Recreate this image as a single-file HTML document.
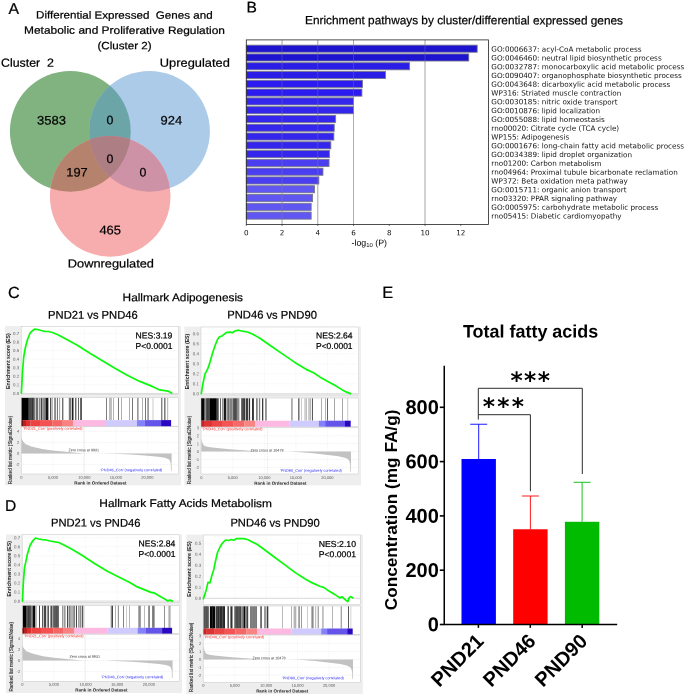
<!DOCTYPE html>
<html lang="en"><head><meta charset="utf-8"><title>Figure</title>
<style>html,body{margin:0;padding:0;background:#fff}svg{display:block;will-change:transform}text{white-space:pre}</style></head><body>
<svg width="685" height="695" viewBox="0 0 685 695">
<rect width="685" height="695" fill="#fff"/>
<!-- Panel A -->
<defs>
<clipPath id="cg"><circle cx="70.3" cy="131.3" r="60.4"/></clipPath>
<clipPath id="cb"><circle cx="149.5" cy="131.3" r="60.4"/></clipPath>
</defs>
<circle cx="70.3" cy="131.3" r="60.4" fill="#80B380"/>
<circle cx="149.5" cy="131.3" r="60.4" fill="#ACCBE8"/>
<circle cx="110.2" cy="196.4" r="60.3" fill="#F7ACAE"/>
<circle cx="149.5" cy="131.3" r="60.4" fill="#6CA5A8" clip-path="url(#cg)"/>
<circle cx="110.2" cy="196.4" r="60.3" fill="#B5836D" clip-path="url(#cg)"/>
<circle cx="110.2" cy="196.4" r="60.3" fill="#CE92A6" clip-path="url(#cb)"/>
<g clip-path="url(#cg)"><circle cx="110.2" cy="196.4" r="60.3" fill="#AD7F85" clip-path="url(#cb)"/></g>
<text x="8.40" y="14.00" font-size="15.8" font-family="Liberation Sans, sans-serif" stroke="#000" stroke-width="0.22" transform="rotate(0.05 8.40 14.00)">A</text>
<text x="36.00" y="18.60" font-size="10.6" font-family="Liberation Sans, sans-serif" stroke="#000" stroke-width="0.22" textLength="176.60" lengthAdjust="spacingAndGlyphs" transform="rotate(0.05 36.00 18.60)">Differential Expressed  Genes and</text>
<text x="24.00" y="33.80" font-size="10.6" font-family="Liberation Sans, sans-serif" stroke="#000" stroke-width="0.22" textLength="201.00" lengthAdjust="spacingAndGlyphs" transform="rotate(0.05 24.00 33.80)">Metabolic and Proliferative Regulation</text>
<text x="97.40" y="49.20" font-size="10.6" font-family="Liberation Sans, sans-serif" stroke="#000" stroke-width="0.22" textLength="54.20" lengthAdjust="spacingAndGlyphs" transform="rotate(0.05 97.40 49.20)">(Cluster 2)</text>
<text x="1.00" y="66.70" font-size="11.8" font-family="Liberation Sans, sans-serif" stroke="#000" stroke-width="0.22" textLength="53.00" lengthAdjust="spacingAndGlyphs" transform="rotate(0.05 1.00 66.70)">Cluster  2</text>
<text x="159.80" y="66.80" font-size="11.8" font-family="Liberation Sans, sans-serif" stroke="#000" stroke-width="0.22" textLength="70.00" lengthAdjust="spacingAndGlyphs" transform="rotate(0.05 159.80 66.80)">Upregulated</text>
<text x="67.80" y="267.40" font-size="11.8" font-family="Liberation Sans, sans-serif" stroke="#000" stroke-width="0.22" textLength="86.20" lengthAdjust="spacingAndGlyphs" transform="rotate(0.05 67.80 267.40)">Downregulated</text>
<text x="51.50" y="124.50" font-size="12.3" font-family="Liberation Sans, sans-serif" text-anchor="middle" stroke="#000" stroke-width="0.22" textLength="28.90" lengthAdjust="spacingAndGlyphs" transform="rotate(0.05 51.50 124.50)">3583</text>
<text x="110.00" y="124.20" font-size="12.3" font-family="Liberation Sans, sans-serif" text-anchor="middle" stroke="#000" stroke-width="0.22" transform="rotate(0.05 110.00 124.20)">0</text>
<text x="171.30" y="124.50" font-size="12.3" font-family="Liberation Sans, sans-serif" text-anchor="middle" stroke="#000" stroke-width="0.22" textLength="21.60" lengthAdjust="spacingAndGlyphs" transform="rotate(0.05 171.30 124.50)">924</text>
<text x="110.00" y="163.00" font-size="12.3" font-family="Liberation Sans, sans-serif" text-anchor="middle" stroke="#000" stroke-width="0.22" transform="rotate(0.05 110.00 163.00)">0</text>
<text x="77.00" y="176.60" font-size="12.3" font-family="Liberation Sans, sans-serif" text-anchor="middle" stroke="#000" stroke-width="0.22" textLength="21.40" lengthAdjust="spacingAndGlyphs" transform="rotate(0.05 77.00 176.60)">197</text>
<text x="143.00" y="176.60" font-size="12.3" font-family="Liberation Sans, sans-serif" text-anchor="middle" stroke="#000" stroke-width="0.22" transform="rotate(0.05 143.00 176.60)">0</text>
<text x="110.20" y="234.30" font-size="12.3" font-family="Liberation Sans, sans-serif" text-anchor="middle" stroke="#000" stroke-width="0.22" textLength="21.60" lengthAdjust="spacingAndGlyphs" transform="rotate(0.05 110.20 234.30)">465</text>
<!-- Panel B -->
<text x="246.60" y="12.60" font-size="15.6" font-family="Liberation Sans, sans-serif" stroke="#000" stroke-width="0.22" transform="rotate(0.05 246.60 12.60)">B</text>
<text x="305.00" y="24.20" font-size="11.9" font-family="Liberation Sans, sans-serif" stroke="#000" stroke-width="0.22" textLength="318.00" lengthAdjust="spacingAndGlyphs" transform="rotate(0.05 305.00 24.20)">Enrichment pathways by cluster/differential expressed genes</text>
<line x1="282.04" y1="39.9" x2="282.04" y2="224.4" stroke="#ABABAB" stroke-width="0.9"/>
<line x1="317.78" y1="39.9" x2="317.78" y2="224.4" stroke="#ABABAB" stroke-width="0.9"/>
<line x1="353.52" y1="39.9" x2="353.52" y2="224.4" stroke="#ABABAB" stroke-width="0.9"/>
<line x1="425.00" y1="39.9" x2="425.00" y2="224.4" stroke="#ABABAB" stroke-width="0.9"/>
<rect x="246.30" y="45.14" width="230.88" height="7.1" fill="#1E14D0" stroke="#77778C" stroke-width="0.85"/>
<text x="491.30" y="51.61" font-size="7.22" font-family="DejaVu Sans, Liberation Sans, sans-serif" fill="#111" transform="rotate(0.05 491.30 51.61)">GO:0006637: acyl-CoA metabolic process</text>
<rect x="246.30" y="53.92" width="222.48" height="7.1" fill="#1E14D0" stroke="#77778C" stroke-width="0.85"/>
<text x="491.30" y="60.39" font-size="7.22" font-family="DejaVu Sans, Liberation Sans, sans-serif" fill="#111" transform="rotate(0.05 491.30 60.39)">GO:0046460: neutral lipid biosynthetic process</text>
<rect x="246.30" y="62.71" width="163.33" height="7.1" fill="#2A1EE6" stroke="#77778C" stroke-width="0.85"/>
<text x="491.30" y="69.18" font-size="7.22" font-family="DejaVu Sans, Liberation Sans, sans-serif" fill="#111" transform="rotate(0.05 491.30 69.18)">GO:0032787: monocarboxylic acid metabolic process</text>
<rect x="246.30" y="71.49" width="139.21" height="7.1" fill="#2A1EE6" stroke="#77778C" stroke-width="0.85"/>
<text x="491.30" y="77.96" font-size="7.22" font-family="DejaVu Sans, Liberation Sans, sans-serif" fill="#111" transform="rotate(0.05 491.30 77.96)">GO:0090407: organophosphate biosynthetic process</text>
<rect x="246.30" y="80.28" width="116.16" height="7.1" fill="#2B1BF0" stroke="#77778C" stroke-width="0.85"/>
<text x="491.30" y="86.75" font-size="7.22" font-family="DejaVu Sans, Liberation Sans, sans-serif" fill="#111" transform="rotate(0.05 491.30 86.75)">GO:0043648: dicarboxylic acid metabolic process</text>
<rect x="246.30" y="89.06" width="115.62" height="7.1" fill="#2B1BF0" stroke="#77778C" stroke-width="0.85"/>
<text x="491.30" y="95.53" font-size="7.22" font-family="DejaVu Sans, Liberation Sans, sans-serif" fill="#111" transform="rotate(0.05 491.30 95.53)">WP316: Striated muscle contraction</text>
<rect x="246.30" y="97.85" width="107.22" height="7.1" fill="#3426EC" stroke="#77778C" stroke-width="0.85"/>
<text x="491.30" y="104.32" font-size="7.22" font-family="DejaVu Sans, Liberation Sans, sans-serif" fill="#111" transform="rotate(0.05 491.30 104.32)">GO:0030185: nitric oxide transport</text>
<rect x="246.30" y="106.64" width="107.22" height="7.1" fill="#3426EC" stroke="#77778C" stroke-width="0.85"/>
<text x="491.30" y="113.11" font-size="7.22" font-family="DejaVu Sans, Liberation Sans, sans-serif" fill="#111" transform="rotate(0.05 491.30 113.11)">GO:0010876: lipid localization</text>
<rect x="246.30" y="115.42" width="89.35" height="7.1" fill="#3426EC" stroke="#77778C" stroke-width="0.85"/>
<text x="491.30" y="121.89" font-size="7.22" font-family="DejaVu Sans, Liberation Sans, sans-serif" fill="#111" transform="rotate(0.05 491.30 121.89)">GO:0055088: lipid homeostasis</text>
<rect x="246.30" y="124.21" width="87.92" height="7.1" fill="#3426EC" stroke="#77778C" stroke-width="0.85"/>
<text x="491.30" y="130.68" font-size="7.22" font-family="DejaVu Sans, Liberation Sans, sans-serif" fill="#111" transform="rotate(0.05 491.30 130.68)">rno00020: Citrate cycle (TCA cycle)</text>
<rect x="246.30" y="132.99" width="87.56" height="7.1" fill="#3426EC" stroke="#77778C" stroke-width="0.85"/>
<text x="491.30" y="139.46" font-size="7.22" font-family="DejaVu Sans, Liberation Sans, sans-serif" fill="#111" transform="rotate(0.05 491.30 139.46)">WP155: Adipogenesis</text>
<rect x="246.30" y="141.78" width="84.53" height="7.1" fill="#3426EC" stroke="#77778C" stroke-width="0.85"/>
<text x="491.30" y="148.25" font-size="7.22" font-family="DejaVu Sans, Liberation Sans, sans-serif" fill="#111" transform="rotate(0.05 491.30 148.25)">GO:0001676: long-chain fatty acid metabolic process</text>
<rect x="246.30" y="150.56" width="83.10" height="7.1" fill="#3426EC" stroke="#77778C" stroke-width="0.85"/>
<text x="491.30" y="157.03" font-size="7.22" font-family="DejaVu Sans, Liberation Sans, sans-serif" fill="#111" transform="rotate(0.05 491.30 157.03)">GO:0034389: lipid droplet organization</text>
<rect x="246.30" y="159.35" width="82.74" height="7.1" fill="#4A3EF0" stroke="#77778C" stroke-width="0.85"/>
<text x="491.30" y="165.82" font-size="7.22" font-family="DejaVu Sans, Liberation Sans, sans-serif" fill="#111" transform="rotate(0.05 491.30 165.82)">rno01200: Carbon metabolism</text>
<rect x="246.30" y="168.14" width="76.66" height="7.1" fill="#4A3EF0" stroke="#77778C" stroke-width="0.85"/>
<text x="491.30" y="174.61" font-size="7.22" font-family="DejaVu Sans, Liberation Sans, sans-serif" fill="#111" transform="rotate(0.05 491.30 174.61)">rno04964: Proximal tubule bicarbonate reclamation</text>
<rect x="246.30" y="176.92" width="72.55" height="7.1" fill="#4A3EF0" stroke="#77778C" stroke-width="0.85"/>
<text x="491.30" y="183.39" font-size="7.22" font-family="DejaVu Sans, Liberation Sans, sans-serif" fill="#111" transform="rotate(0.05 491.30 183.39)">WP372: Beta oxidation meta pathway</text>
<rect x="246.30" y="185.71" width="68.26" height="7.1" fill="#6056F2" stroke="#77778C" stroke-width="0.85"/>
<text x="491.30" y="192.18" font-size="7.22" font-family="DejaVu Sans, Liberation Sans, sans-serif" fill="#111" transform="rotate(0.05 491.30 192.18)">GO:0015711: organic anion transport</text>
<rect x="246.30" y="194.49" width="66.30" height="7.1" fill="#6056F2" stroke="#77778C" stroke-width="0.85"/>
<text x="491.30" y="200.96" font-size="7.22" font-family="DejaVu Sans, Liberation Sans, sans-serif" fill="#111" transform="rotate(0.05 491.30 200.96)">rno03320: PPAR signaling pathway</text>
<rect x="246.30" y="203.28" width="64.87" height="7.1" fill="#6056F2" stroke="#77778C" stroke-width="0.85"/>
<text x="491.30" y="209.75" font-size="7.22" font-family="DejaVu Sans, Liberation Sans, sans-serif" fill="#111" transform="rotate(0.05 491.30 209.75)">GO:0005975: carbohydrate metabolic process</text>
<rect x="246.30" y="212.06" width="64.87" height="7.1" fill="#6056F2" stroke="#77778C" stroke-width="0.85"/>
<text x="491.30" y="218.53" font-size="7.22" font-family="DejaVu Sans, Liberation Sans, sans-serif" fill="#111" transform="rotate(0.05 491.30 218.53)">rno05415: Diabetic cardiomyopathy</text>
<line x1="282.04" y1="39.9" x2="282.04" y2="224.4" stroke="#9A9A9A" stroke-width="0.9" opacity="0.3"/>
<line x1="317.78" y1="39.9" x2="317.78" y2="224.4" stroke="#9A9A9A" stroke-width="0.9" opacity="0.3"/>
<line x1="353.52" y1="39.9" x2="353.52" y2="224.4" stroke="#9A9A9A" stroke-width="0.9" opacity="0.3"/>
<line x1="425.00" y1="39.9" x2="425.00" y2="224.4" stroke="#9A9A9A" stroke-width="0.9" opacity="0.3"/>
<rect x="246.3" y="39.9" width="242.10" height="184.50" fill="none" stroke="#222" stroke-width="0.8"/>
<line x1="246.30" y1="224.4" x2="246.30" y2="226.0" stroke="#222" stroke-width="0.6"/>
<text x="246.30" y="235.20" font-size="7.22" font-family="DejaVu Sans, Liberation Sans, sans-serif" text-anchor="middle" fill="#111" transform="rotate(0.05 246.30 235.20)">0</text>
<line x1="282.04" y1="224.4" x2="282.04" y2="226.0" stroke="#222" stroke-width="0.6"/>
<text x="282.04" y="235.20" font-size="7.22" font-family="DejaVu Sans, Liberation Sans, sans-serif" text-anchor="middle" fill="#111" transform="rotate(0.05 282.04 235.20)">2</text>
<line x1="317.78" y1="224.4" x2="317.78" y2="226.0" stroke="#222" stroke-width="0.6"/>
<text x="317.78" y="235.20" font-size="7.22" font-family="DejaVu Sans, Liberation Sans, sans-serif" text-anchor="middle" fill="#111" transform="rotate(0.05 317.78 235.20)">4</text>
<line x1="353.52" y1="224.4" x2="353.52" y2="226.0" stroke="#222" stroke-width="0.6"/>
<text x="353.52" y="235.20" font-size="7.22" font-family="DejaVu Sans, Liberation Sans, sans-serif" text-anchor="middle" fill="#111" transform="rotate(0.05 353.52 235.20)">6</text>
<line x1="389.26" y1="224.4" x2="389.26" y2="226.0" stroke="#222" stroke-width="0.6"/>
<text x="389.26" y="235.20" font-size="7.22" font-family="DejaVu Sans, Liberation Sans, sans-serif" text-anchor="middle" fill="#111" transform="rotate(0.05 389.26 235.20)">8</text>
<line x1="425.00" y1="224.4" x2="425.00" y2="226.0" stroke="#222" stroke-width="0.6"/>
<text x="425.00" y="235.20" font-size="7.22" font-family="DejaVu Sans, Liberation Sans, sans-serif" text-anchor="middle" fill="#111" transform="rotate(0.05 425.00 235.20)">10</text>
<line x1="460.74" y1="224.4" x2="460.74" y2="226.0" stroke="#222" stroke-width="0.6"/>
<text x="460.74" y="235.20" font-size="7.22" font-family="DejaVu Sans, Liberation Sans, sans-serif" text-anchor="middle" fill="#111" transform="rotate(0.05 460.74 235.20)">12</text>
<text x="351.6" y="245.7" font-size="8.8" font-family="Liberation Sans, sans-serif" transform="rotate(0.05 351.6 245.7)">-log<tspan font-size="5.9" dy="1.3">10</tspan><tspan dy="-1.3"> (P)</tspan></text>
<!-- Panel C -->
<text x="8.00" y="298.00" font-size="16.2" font-family="Liberation Sans, sans-serif" stroke="#000" stroke-width="0.22" transform="rotate(0.05 8.00 298.00)">C</text>
<text x="122.60" y="301.20" font-size="11.2" font-family="Liberation Sans, sans-serif" stroke="#000" stroke-width="0.22" textLength="120.40" lengthAdjust="spacingAndGlyphs" transform="rotate(0.05 122.60 301.20)">Hallmark Adipogenesis</text>
<text x="48.10" y="318.70" font-size="11.3" font-family="Liberation Sans, sans-serif" stroke="#000" stroke-width="0.22" textLength="89.60" lengthAdjust="spacingAndGlyphs" transform="rotate(0.05 48.10 318.70)">PND21 vs PND46</text>
<text x="227.30" y="318.60" font-size="11.3" font-family="Liberation Sans, sans-serif" stroke="#000" stroke-width="0.22" textLength="89.60" lengthAdjust="spacingAndGlyphs" transform="rotate(0.05 227.30 318.60)">PND46 vs PND90</text>
<rect x="5" y="326.0" width="176.0" height="159.4" fill="#EEEEEE"/>
<rect x="21.2" y="326.4" width="157.4" height="68.2" fill="#fff" stroke="#C6C6C6" stroke-width="0.5"/>
<rect x="21.2" y="397.6" width="157.4" height="28.6" fill="#fff" stroke="#C6C6C6" stroke-width="0.5"/>
<rect x="21.2" y="426.8" width="157.4" height="47.2" fill="#fff" stroke="#C6C6C6" stroke-width="0.5"/>
<path d="M52.9 326.4V394.6M52.9 426.8V474" stroke="#EAEAEA" stroke-width="0.5" stroke-dasharray="1 0.8" fill="none"/>
<path d="M84.4 326.4V394.6M84.4 426.8V474" stroke="#EAEAEA" stroke-width="0.5" stroke-dasharray="1 0.8" fill="none"/>
<path d="M115.9 326.4V394.6M115.9 426.8V474" stroke="#EAEAEA" stroke-width="0.5" stroke-dasharray="1 0.8" fill="none"/>
<path d="M147.4 326.4V394.6M147.4 426.8V474" stroke="#EAEAEA" stroke-width="0.5" stroke-dasharray="1 0.8" fill="none"/>
<line x1="21.2" y1="393.4" x2="178.6" y2="393.4" stroke="#EAEAEA" stroke-width="0.5" stroke-dasharray="1 0.8"/>
<text x="19.10" y="394.95" font-size="4.4" font-family="Liberation Sans, sans-serif" text-anchor="end" fill="#5A5A5A" transform="rotate(0.05 19.10 394.95)">0.0</text>
<line x1="21.2" y1="384.8" x2="178.6" y2="384.8" stroke="#EAEAEA" stroke-width="0.5" stroke-dasharray="1 0.8"/>
<text x="19.10" y="386.38" font-size="4.4" font-family="Liberation Sans, sans-serif" text-anchor="end" fill="#5A5A5A" transform="rotate(0.05 19.10 386.38)">0.1</text>
<line x1="21.2" y1="376.3" x2="178.6" y2="376.3" stroke="#EAEAEA" stroke-width="0.5" stroke-dasharray="1 0.8"/>
<text x="19.10" y="377.81" font-size="4.4" font-family="Liberation Sans, sans-serif" text-anchor="end" fill="#5A5A5A" transform="rotate(0.05 19.10 377.81)">0.2</text>
<line x1="21.2" y1="367.7" x2="178.6" y2="367.7" stroke="#EAEAEA" stroke-width="0.5" stroke-dasharray="1 0.8"/>
<text x="19.10" y="369.24" font-size="4.4" font-family="Liberation Sans, sans-serif" text-anchor="end" fill="#5A5A5A" transform="rotate(0.05 19.10 369.24)">0.3</text>
<line x1="21.2" y1="359.1" x2="178.6" y2="359.1" stroke="#EAEAEA" stroke-width="0.5" stroke-dasharray="1 0.8"/>
<text x="19.10" y="360.67" font-size="4.4" font-family="Liberation Sans, sans-serif" text-anchor="end" fill="#5A5A5A" transform="rotate(0.05 19.10 360.67)">0.4</text>
<line x1="21.2" y1="350.5" x2="178.6" y2="350.5" stroke="#EAEAEA" stroke-width="0.5" stroke-dasharray="1 0.8"/>
<text x="19.10" y="352.10" font-size="4.4" font-family="Liberation Sans, sans-serif" text-anchor="end" fill="#5A5A5A" transform="rotate(0.05 19.10 352.10)">0.5</text>
<line x1="21.2" y1="342.0" x2="178.6" y2="342.0" stroke="#EAEAEA" stroke-width="0.5" stroke-dasharray="1 0.8"/>
<text x="19.10" y="343.53" font-size="4.4" font-family="Liberation Sans, sans-serif" text-anchor="end" fill="#5A5A5A" transform="rotate(0.05 19.10 343.53)">0.6</text>
<line x1="21.2" y1="333.4" x2="178.6" y2="333.4" stroke="#EAEAEA" stroke-width="0.5" stroke-dasharray="1 0.8"/>
<text x="19.10" y="334.96" font-size="4.4" font-family="Liberation Sans, sans-serif" text-anchor="end" fill="#5A5A5A" transform="rotate(0.05 19.10 334.96)">0.7</text>
<line x1="21.2" y1="393.4" x2="178.6" y2="393.4" stroke="#B8B8B8" stroke-width="0.5"/>
<text x="9.80" y="361.10" font-size="5.0" font-family="Liberation Sans, sans-serif" text-anchor="middle" font-weight="bold" fill="#222" textLength="55.60" lengthAdjust="spacingAndGlyphs" transform="rotate(-90 9.80 361.10)">Enrichment score (ES)</text>
<polyline points="21.4,393.1 22.5,371.9 23.7,357.0 25.5,347.0 27.5,339.5 30.0,333.2 32.5,330.7 34.5,329.2 37.5,329.5 41.2,330.5 45.0,331.5 48.7,331.5 52.4,332.5 57.4,334.5 64.9,338.5 77.4,345.2 89.9,353.2 102.4,360.7 114.9,368.2 127.3,375.2 139.8,381.4 152.3,386.4 159.8,389.9 164.8,390.6 167.8,391.1 171.6,393.1" fill="none" stroke="#0AFA0A" stroke-width="1.7" stroke-linejoin="round" stroke-linecap="round"/>
<rect x="21.6" y="397.9" width="6.4" height="22.2" fill="#000000"/>
<rect x="28.0" y="397.9" width="6.6" height="22.2" fill="#232323"/>
<rect x="29.2" y="397.9" width="0.6" height="22.2" fill="#464646"/>
<rect x="31.0" y="397.9" width="0.6" height="22.2" fill="#4B4B4B"/>
<rect x="33.0" y="397.9" width="0.5" height="22.2" fill="#464646"/>
<rect x="35.6" y="397.9" width="2.4" height="22.2" fill="#6E6E6E"/>
<rect x="38.7" y="397.9" width="1.3" height="22.2" fill="#8C8C8C"/>
<rect x="40.6" y="397.9" width="1.9" height="22.2" fill="#464646"/>
<rect x="43.1" y="397.9" width="1.9" height="22.2" fill="#828282"/>
<rect x="45.4" y="397.9" width="3.0" height="22.2" fill="#141414"/>
<rect x="50.0" y="397.9" width="1.3" height="22.2" fill="#505050"/>
<rect x="51.9" y="397.9" width="0.6" height="22.2" fill="#787878"/>
<rect x="54.4" y="397.9" width="1.3" height="22.2" fill="#5A5A5A"/>
<rect x="56.9" y="397.9" width="1.1" height="22.2" fill="#787878"/>
<rect x="59.4" y="397.9" width="0.7" height="22.2" fill="#787878"/>
<rect x="62.0" y="397.9" width="1.4" height="22.2" fill="#6E6E6E"/>
<rect x="68.8" y="397.9" width="2.6" height="22.2" fill="#787878"/>
<rect x="72.0" y="397.9" width="1.5" height="22.2" fill="#1E1E1E"/>
<rect x="75.1" y="397.9" width="1.3" height="22.2" fill="#5A5A5A"/>
<rect x="78.0" y="397.9" width="1.0" height="22.2" fill="#646464"/>
<rect x="80.1" y="397.9" width="1.9" height="22.2" fill="#5A5A5A"/>
<rect x="106.0" y="397.9" width="0.7" height="22.2" fill="#464646"/>
<rect x="109.0" y="397.9" width="0.5" height="22.2" fill="#787878"/>
<rect x="110.1" y="397.9" width="0.5" height="22.2" fill="#787878"/>
<rect x="111.1" y="397.9" width="0.5" height="22.2" fill="#828282"/>
<rect x="113.3" y="397.9" width="0.6" height="22.2" fill="#828282"/>
<rect x="118.2" y="397.9" width="0.7" height="22.2" fill="#3C3C3C"/>
<rect x="121.0" y="397.9" width="0.6" height="22.2" fill="#787878"/>
<rect x="129.2" y="397.9" width="0.6" height="22.2" fill="#787878"/>
<rect x="132.1" y="397.9" width="0.7" height="22.2" fill="#3C3C3C"/>
<rect x="137.4" y="397.9" width="1.0" height="22.2" fill="#5A5A5A"/>
<rect x="142.4" y="397.9" width="0.6" height="22.2" fill="#787878"/>
<rect x="145.1" y="397.9" width="0.7" height="22.2" fill="#3C3C3C"/>
<rect x="147.6" y="397.9" width="0.9" height="22.2" fill="#3C3C3C"/>
<rect x="152.7" y="397.9" width="0.6" height="22.2" fill="#AAAAAA"/>
<rect x="161.1" y="397.9" width="1.3" height="22.2" fill="#787878"/>
<rect x="164.3" y="397.9" width="1.1" height="22.2" fill="#464646"/>
<rect x="167.5" y="397.9" width="0.6" height="22.2" fill="#828282"/>
<path d="M29.1 397.9V420.1M30.6 397.9V420.1M32.0 397.9V420.1M33.5 397.9V420.1" stroke="#9A9A9A" stroke-width="0.35" fill="none"/>
<rect x="21.4" y="420.1" width="1.6" height="6.1" fill="#7A0C0C"/>
<rect x="22.9" y="420.1" width="3.2" height="6.1" fill="#B82020"/>
<rect x="26.0" y="420.1" width="4.2" height="6.1" fill="#DC3030"/>
<rect x="30.2" y="420.1" width="9.9" height="6.1" fill="#EC4242"/>
<rect x="40.0" y="420.1" width="12.5" height="6.1" fill="#F45252"/>
<rect x="52.4" y="420.1" width="10.4" height="6.1" fill="#F46666"/>
<rect x="62.7" y="420.1" width="10.4" height="6.1" fill="#F88282"/>
<rect x="73.0" y="420.1" width="33.1" height="6.1" fill="#FDB9E2"/>
<rect x="106.0" y="420.1" width="31.1" height="6.1" fill="#CFCBFF"/>
<rect x="137.0" y="420.1" width="7.7" height="6.1" fill="#8482FA"/>
<rect x="144.6" y="420.1" width="16.6" height="6.1" fill="#6454EA"/>
<rect x="161.1" y="420.1" width="10.0" height="6.1" fill="#2A08C0"/>
<line x1="21.2" y1="431.4" x2="178.6" y2="431.4" stroke="#E2E2E2" stroke-width="0.5" stroke-dasharray="1 0.8"/>
<text x="19.30" y="432.85" font-size="4.1" font-family="Liberation Sans, sans-serif" text-anchor="end" fill="#5A5A5A" transform="rotate(0.05 19.30 432.85)">4</text>
<line x1="21.2" y1="442.4" x2="178.6" y2="442.4" stroke="#E2E2E2" stroke-width="0.5" stroke-dasharray="1 0.8"/>
<text x="19.30" y="443.85" font-size="4.1" font-family="Liberation Sans, sans-serif" text-anchor="end" fill="#5A5A5A" transform="rotate(0.05 19.30 443.85)">2</text>
<line x1="21.2" y1="453.4" x2="178.6" y2="453.4" stroke="#E2E2E2" stroke-width="0.5" stroke-dasharray="1 0.8"/>
<text x="19.30" y="454.85" font-size="4.1" font-family="Liberation Sans, sans-serif" text-anchor="end" fill="#5A5A5A" transform="rotate(0.05 19.30 454.85)">0</text>
<line x1="21.2" y1="464.4" x2="178.6" y2="464.4" stroke="#E2E2E2" stroke-width="0.5" stroke-dasharray="1 0.8"/>
<text x="19.30" y="465.85" font-size="4.1" font-family="Liberation Sans, sans-serif" text-anchor="end" fill="#5A5A5A" transform="rotate(0.05 19.30 465.85)">-2</text>
<polygon points="21.4,453.4 21.4,437.2 22.0,439.6 23.3,441.8 25.4,444.0 31.2,446.4 42.1,449.0 52.7,450.5 68.3,452.0 79.0,453.0 84.0,453.4 104.0,453.4 114.1,453.7 131.0,454.6 144.6,455.6 158.1,456.8 164.8,457.8 168.2,458.9 169.9,460.5 170.8,463.8 170.9,470.7 171.6,470.7 171.6,453.4" fill="#C2C2C2"/>
<line x1="84.0" y1="426.8" x2="84.0" y2="474" stroke="#CDCDCD" stroke-width="0.5" stroke-dasharray="1.2 1"/>
<text x="68.60" y="451.20" font-size="3.6" font-family="Liberation Sans, sans-serif" fill="#333" textLength="30.40" lengthAdjust="spacingAndGlyphs" transform="rotate(0.05 68.60 451.20)">Zero cross at 9931</text>
<text x="23.00" y="429.80" font-size="3.75" font-family="Liberation Sans, sans-serif" fill="#F82828" textLength="59.60" lengthAdjust="spacingAndGlyphs" transform="rotate(0.05 23.00 429.80)">'PND21_Con' (positively correlated)</text>
<text x="100.60" y="471.20" font-size="3.75" font-family="Liberation Sans, sans-serif" fill="#2828F8" textLength="61.80" lengthAdjust="spacingAndGlyphs" transform="rotate(0.05 100.60 471.20)">'PND46_Con' (negatively correlated)</text>
<text x="11.80" y="450.00" font-size="4.6" font-family="Liberation Sans, sans-serif" text-anchor="middle" fill="#2A2A2A" textLength="68.40" lengthAdjust="spacingAndGlyphs" transform="rotate(-90 11.80 450.00)" stroke="#2A2A2A" stroke-width="0.12">Ranked list metric (Signal2Noise)</text>
<text x="21.40" y="478.85" font-size="4.0" font-family="Liberation Sans, sans-serif" text-anchor="middle" fill="#555" transform="rotate(0.05 21.40 478.85)">0</text>
<text x="52.90" y="478.85" font-size="4.0" font-family="Liberation Sans, sans-serif" text-anchor="middle" fill="#555" transform="rotate(0.05 52.90 478.85)">5,000</text>
<text x="84.40" y="478.85" font-size="4.0" font-family="Liberation Sans, sans-serif" text-anchor="middle" fill="#555" transform="rotate(0.05 84.40 478.85)">10,000</text>
<text x="115.90" y="478.85" font-size="4.0" font-family="Liberation Sans, sans-serif" text-anchor="middle" fill="#555" transform="rotate(0.05 115.90 478.85)">15,000</text>
<text x="147.40" y="478.85" font-size="4.0" font-family="Liberation Sans, sans-serif" text-anchor="middle" fill="#555" transform="rotate(0.05 147.40 478.85)">20,000</text>
<text x="100.40" y="484.60" font-size="4.5" font-family="Liberation Sans, sans-serif" text-anchor="middle" font-weight="bold" fill="#2A2A2A" textLength="52.20" lengthAdjust="spacingAndGlyphs" transform="rotate(0.05 100.40 484.60)">Rank in Ordered Dataset</text>
<text x="135.60" y="338.60" font-size="8.7" font-family="Liberation Sans, sans-serif" stroke="#000" stroke-width="0.22" textLength="36.80" lengthAdjust="spacingAndGlyphs" transform="rotate(0.05 135.60 338.60)">NES:3.19</text>
<text x="135.60" y="348.90" font-size="8.7" font-family="Liberation Sans, sans-serif" stroke="#000" stroke-width="0.22" textLength="36.80" lengthAdjust="spacingAndGlyphs" transform="rotate(0.05 135.60 348.90)">P&lt;0.0001</text>
<rect x="184.4" y="326.6" width="176.6" height="158.8" fill="#EEEEEE"/>
<rect x="201" y="327" width="157.7" height="68.0" fill="#fff" stroke="#C6C6C6" stroke-width="0.5"/>
<rect x="201" y="398" width="157.7" height="28.7" fill="#fff" stroke="#C6C6C6" stroke-width="0.5"/>
<rect x="201" y="427.3" width="157.7" height="46.7" fill="#fff" stroke="#C6C6C6" stroke-width="0.5"/>
<path d="M232.8 327V395M232.8 427.3V474" stroke="#EAEAEA" stroke-width="0.5" stroke-dasharray="1 0.8" fill="none"/>
<path d="M264.3 327V395M264.3 427.3V474" stroke="#EAEAEA" stroke-width="0.5" stroke-dasharray="1 0.8" fill="none"/>
<path d="M295.8 327V395M295.8 427.3V474" stroke="#EAEAEA" stroke-width="0.5" stroke-dasharray="1 0.8" fill="none"/>
<path d="M327.3 327V395M327.3 427.3V474" stroke="#EAEAEA" stroke-width="0.5" stroke-dasharray="1 0.8" fill="none"/>
<line x1="201" y1="393.8" x2="358.7" y2="393.8" stroke="#EAEAEA" stroke-width="0.5" stroke-dasharray="1 0.8"/>
<text x="198.90" y="395.35" font-size="4.4" font-family="Liberation Sans, sans-serif" text-anchor="end" fill="#5A5A5A" transform="rotate(0.05 198.90 395.35)">0.0</text>
<line x1="201" y1="383.8" x2="358.7" y2="383.8" stroke="#EAEAEA" stroke-width="0.5" stroke-dasharray="1 0.8"/>
<text x="198.90" y="385.35" font-size="4.4" font-family="Liberation Sans, sans-serif" text-anchor="end" fill="#5A5A5A" transform="rotate(0.05 198.90 385.35)">0.1</text>
<line x1="201" y1="373.8" x2="358.7" y2="373.8" stroke="#EAEAEA" stroke-width="0.5" stroke-dasharray="1 0.8"/>
<text x="198.90" y="375.35" font-size="4.4" font-family="Liberation Sans, sans-serif" text-anchor="end" fill="#5A5A5A" transform="rotate(0.05 198.90 375.35)">0.2</text>
<line x1="201" y1="363.8" x2="358.7" y2="363.8" stroke="#EAEAEA" stroke-width="0.5" stroke-dasharray="1 0.8"/>
<text x="198.90" y="365.35" font-size="4.4" font-family="Liberation Sans, sans-serif" text-anchor="end" fill="#5A5A5A" transform="rotate(0.05 198.90 365.35)">0.3</text>
<line x1="201" y1="353.8" x2="358.7" y2="353.8" stroke="#EAEAEA" stroke-width="0.5" stroke-dasharray="1 0.8"/>
<text x="198.90" y="355.35" font-size="4.4" font-family="Liberation Sans, sans-serif" text-anchor="end" fill="#5A5A5A" transform="rotate(0.05 198.90 355.35)">0.4</text>
<line x1="201" y1="343.8" x2="358.7" y2="343.8" stroke="#EAEAEA" stroke-width="0.5" stroke-dasharray="1 0.8"/>
<text x="198.90" y="345.35" font-size="4.4" font-family="Liberation Sans, sans-serif" text-anchor="end" fill="#5A5A5A" transform="rotate(0.05 198.90 345.35)">0.5</text>
<line x1="201" y1="333.8" x2="358.7" y2="333.8" stroke="#EAEAEA" stroke-width="0.5" stroke-dasharray="1 0.8"/>
<text x="198.90" y="335.35" font-size="4.4" font-family="Liberation Sans, sans-serif" text-anchor="end" fill="#5A5A5A" transform="rotate(0.05 198.90 335.35)">0.6</text>
<line x1="201" y1="393.8" x2="358.7" y2="393.8" stroke="#B8B8B8" stroke-width="0.5"/>
<text x="189.20" y="361.50" font-size="5.0" font-family="Liberation Sans, sans-serif" text-anchor="middle" font-weight="bold" fill="#222" textLength="55.60" lengthAdjust="spacingAndGlyphs" transform="rotate(-90 189.20 361.50)">Enrichment score (ES)</text>
<polyline points="201.3,393.6 203.0,383.2 205.0,373.9 206.2,371.9 208.0,368.2 210.0,361.9 212.5,353.2 215.0,345.7 217.5,339.5 219.2,337.0 222.5,335.7 226.2,332.7 230.0,332.2 232.4,332.7 234.9,331.0 238.7,330.2 242.4,331.2 247.4,332.0 252.4,334.0 259.9,338.2 269.9,345.2 282.4,353.9 294.9,362.4 307.3,369.9 313.6,372.7 319.8,376.9 327.3,381.2 334.8,385.2 342.3,389.9 347.3,392.4 350.5,393.6" fill="none" stroke="#0AFA0A" stroke-width="1.7" stroke-linejoin="round" stroke-linecap="round"/>
<rect x="201.2" y="398.3" width="3.4" height="22.4" fill="#050505"/>
<rect x="205.5" y="398.3" width="4.0" height="22.4" fill="#1E1E1E"/>
<rect x="206.6" y="398.3" width="0.6" height="22.4" fill="#5A5A5A"/>
<rect x="208.2" y="398.3" width="0.5" height="22.4" fill="#505050"/>
<rect x="209.5" y="398.3" width="7.3" height="22.4" fill="#000000"/>
<rect x="216.8" y="398.3" width="1.9" height="22.4" fill="#464646"/>
<rect x="220.0" y="398.3" width="0.7" height="22.4" fill="#282828"/>
<rect x="222.5" y="398.3" width="0.7" height="22.4" fill="#282828"/>
<rect x="223.8" y="398.3" width="2.5" height="22.4" fill="#191919"/>
<rect x="227.2" y="398.3" width="2.2" height="22.4" fill="#6E6E6E"/>
<rect x="229.4" y="398.3" width="2.6" height="22.4" fill="#828282"/>
<rect x="232.5" y="398.3" width="5.1" height="22.4" fill="#3C3C3C"/>
<rect x="237.6" y="398.3" width="1.8" height="22.4" fill="#8C8C8C"/>
<rect x="241.3" y="398.3" width="3.8" height="22.4" fill="#323232"/>
<rect x="245.7" y="398.3" width="2.5" height="22.4" fill="#3C3C3C"/>
<rect x="248.9" y="398.3" width="1.2" height="22.4" fill="#323232"/>
<rect x="252.0" y="398.3" width="1.9" height="22.4" fill="#323232"/>
<rect x="256.0" y="398.3" width="1.7" height="22.4" fill="#828282"/>
<rect x="258.9" y="398.3" width="1.3" height="22.4" fill="#828282"/>
<rect x="262.0" y="398.3" width="1.3" height="22.4" fill="#3C3C3C"/>
<rect x="265.2" y="398.3" width="1.5" height="22.4" fill="#787878"/>
<rect x="291.5" y="398.3" width="0.9" height="22.4" fill="#5A5A5A"/>
<rect x="298.3" y="398.3" width="1.1" height="22.4" fill="#3C3C3C"/>
<rect x="301.3" y="398.3" width="0.6" height="22.4" fill="#AAAAAA"/>
<rect x="304.7" y="398.3" width="0.6" height="22.4" fill="#828282"/>
<rect x="305.9" y="398.3" width="0.6" height="22.4" fill="#828282"/>
<rect x="308.6" y="398.3" width="0.6" height="22.4" fill="#828282"/>
<rect x="309.7" y="398.3" width="0.6" height="22.4" fill="#8C8C8C"/>
<rect x="310.6" y="398.3" width="0.5" height="22.4" fill="#828282"/>
<rect x="312.2" y="398.3" width="0.8" height="22.4" fill="#323232"/>
<rect x="321.1" y="398.3" width="0.6" height="22.4" fill="#787878"/>
<rect x="325.1" y="398.3" width="0.6" height="22.4" fill="#828282"/>
<rect x="327.1" y="398.3" width="0.8" height="22.4" fill="#3C3C3C"/>
<rect x="334.3" y="398.3" width="0.6" height="22.4" fill="#6E6E6E"/>
<rect x="342.1" y="398.3" width="0.6" height="22.4" fill="#6E6E6E"/>
<rect x="347.5" y="398.3" width="0.6" height="22.4" fill="#AAAAAA"/>
<path d="M206.6 398.3V420.7M208.0 398.3V420.7M233.6 398.3V420.7M235.0 398.3V420.7M236.5 398.3V420.7M242.4 398.3V420.7M243.8 398.3V420.7" stroke="#9A9A9A" stroke-width="0.35" fill="none"/>
<rect x="201.2" y="420.7" width="2.8" height="6.0" fill="#C02424"/>
<rect x="203.9" y="420.7" width="8.2" height="6.0" fill="#DC3434"/>
<rect x="212.0" y="420.7" width="10.9" height="6.0" fill="#EC4444"/>
<rect x="222.8" y="420.7" width="10.9" height="6.0" fill="#F45454"/>
<rect x="233.5" y="420.7" width="10.9" height="6.0" fill="#F46868"/>
<rect x="244.3" y="420.7" width="10.9" height="6.0" fill="#F88484"/>
<rect x="255.1" y="420.7" width="34.4" height="6.0" fill="#FDB9E2"/>
<rect x="289.4" y="420.7" width="29.6" height="6.0" fill="#CFCBFF"/>
<rect x="318.9" y="420.7" width="6.4" height="6.0" fill="#8482FA"/>
<rect x="325.2" y="420.7" width="19.9" height="6.0" fill="#6454EA"/>
<rect x="345.0" y="420.7" width="5.7" height="6.0" fill="#2A08C0"/>
<line x1="201" y1="427.9" x2="358.7" y2="427.9" stroke="#E2E2E2" stroke-width="0.5" stroke-dasharray="1 0.8"/>
<text x="199.10" y="429.35" font-size="4.1" font-family="Liberation Sans, sans-serif" text-anchor="end" fill="#5A5A5A" transform="rotate(0.05 199.10 429.35)">3</text>
<line x1="201" y1="435.8" x2="358.7" y2="435.8" stroke="#E2E2E2" stroke-width="0.5" stroke-dasharray="1 0.8"/>
<text x="199.10" y="437.25" font-size="4.1" font-family="Liberation Sans, sans-serif" text-anchor="end" fill="#5A5A5A" transform="rotate(0.05 199.10 437.25)">2</text>
<line x1="201" y1="443.7" x2="358.7" y2="443.7" stroke="#E2E2E2" stroke-width="0.5" stroke-dasharray="1 0.8"/>
<text x="199.10" y="445.15" font-size="4.1" font-family="Liberation Sans, sans-serif" text-anchor="end" fill="#5A5A5A" transform="rotate(0.05 199.10 445.15)">1</text>
<line x1="201" y1="451.6" x2="358.7" y2="451.6" stroke="#E2E2E2" stroke-width="0.5" stroke-dasharray="1 0.8"/>
<text x="199.10" y="453.05" font-size="4.1" font-family="Liberation Sans, sans-serif" text-anchor="end" fill="#5A5A5A" transform="rotate(0.05 199.10 453.05)">0</text>
<line x1="201" y1="459.5" x2="358.7" y2="459.5" stroke="#E2E2E2" stroke-width="0.5" stroke-dasharray="1 0.8"/>
<text x="199.10" y="460.95" font-size="4.1" font-family="Liberation Sans, sans-serif" text-anchor="end" fill="#5A5A5A" transform="rotate(0.05 199.10 460.95)">-1</text>
<line x1="201" y1="467.4" x2="358.7" y2="467.4" stroke="#E2E2E2" stroke-width="0.5" stroke-dasharray="1 0.8"/>
<text x="199.10" y="468.85" font-size="4.1" font-family="Liberation Sans, sans-serif" text-anchor="end" fill="#5A5A5A" transform="rotate(0.05 199.10 468.85)">-2</text>
<polygon points="201.3,451.5 201.3,438.1 201.9,441.2 203.1,444.4 204.3,445.8 207.4,446.8 212.2,447.6 219.5,448.3 229.8,449.3 246.8,450.6 257.1,451.3 262.0,451.5 288.0,451.5 297.4,451.9 313.2,453.2 325.8,454.7 338.4,456.2 344.7,457.7 347.9,459.0 349.4,461.0 350.2,464.9 350.3,471.6 351.0,471.6 351.0,451.5" fill="#C2C2C2"/>
<line x1="267.4" y1="427.3" x2="267.4" y2="474" stroke="#CDCDCD" stroke-width="0.5" stroke-dasharray="1.2 1"/>
<text x="250.40" y="451.60" font-size="3.6" font-family="Liberation Sans, sans-serif" fill="#333" textLength="33.20" lengthAdjust="spacingAndGlyphs" transform="rotate(0.05 250.40 451.60)">Zero cross at 10478</text>
<text x="202.60" y="430.20" font-size="3.75" font-family="Liberation Sans, sans-serif" fill="#F82828" textLength="60.00" lengthAdjust="spacingAndGlyphs" transform="rotate(0.05 202.60 430.20)">'PND46_Con' (positively correlated)</text>
<text x="280.00" y="471.80" font-size="3.75" font-family="Liberation Sans, sans-serif" fill="#2828F8" textLength="61.80" lengthAdjust="spacingAndGlyphs" transform="rotate(0.05 280.00 471.80)">'PND90_Con' (negatively correlated)</text>
<text x="191.20" y="450.00" font-size="4.6" font-family="Liberation Sans, sans-serif" text-anchor="middle" fill="#2A2A2A" textLength="68.40" lengthAdjust="spacingAndGlyphs" transform="rotate(-90 191.20 450.00)" stroke="#2A2A2A" stroke-width="0.12">Ranked list metric (Signal2Noise)</text>
<text x="201.30" y="479.05" font-size="4.0" font-family="Liberation Sans, sans-serif" text-anchor="middle" fill="#555" transform="rotate(0.05 201.30 479.05)">0</text>
<text x="232.80" y="479.05" font-size="4.0" font-family="Liberation Sans, sans-serif" text-anchor="middle" fill="#555" transform="rotate(0.05 232.80 479.05)">5,000</text>
<text x="264.30" y="479.05" font-size="4.0" font-family="Liberation Sans, sans-serif" text-anchor="middle" fill="#555" transform="rotate(0.05 264.30 479.05)">10,000</text>
<text x="295.80" y="479.05" font-size="4.0" font-family="Liberation Sans, sans-serif" text-anchor="middle" fill="#555" transform="rotate(0.05 295.80 479.05)">15,000</text>
<text x="327.30" y="479.05" font-size="4.0" font-family="Liberation Sans, sans-serif" text-anchor="middle" fill="#555" transform="rotate(0.05 327.30 479.05)">20,000</text>
<text x="280.35" y="484.80" font-size="4.5" font-family="Liberation Sans, sans-serif" text-anchor="middle" font-weight="bold" fill="#2A2A2A" textLength="52.20" lengthAdjust="spacingAndGlyphs" transform="rotate(0.05 280.35 484.80)">Rank in Ordered Dataset</text>
<text x="316.00" y="338.60" font-size="8.7" font-family="Liberation Sans, sans-serif" stroke="#000" stroke-width="0.22" textLength="36.60" lengthAdjust="spacingAndGlyphs" transform="rotate(0.05 316.00 338.60)">NES:2.64</text>
<text x="316.00" y="348.90" font-size="8.7" font-family="Liberation Sans, sans-serif" stroke="#000" stroke-width="0.22" textLength="36.60" lengthAdjust="spacingAndGlyphs" transform="rotate(0.05 316.00 348.90)">P&lt;0.0001</text>
<!-- Panel D -->
<text x="5.00" y="511.00" font-size="15.6" font-family="Liberation Sans, sans-serif" stroke="#000" stroke-width="0.22" transform="rotate(0.05 5.00 511.00)">D</text>
<text x="99.30" y="507.00" font-size="11.2" font-family="Liberation Sans, sans-serif" stroke="#000" stroke-width="0.22" textLength="172.60" lengthAdjust="spacingAndGlyphs" transform="rotate(0.05 99.30 507.00)">Hallmark Fatty Acids Metabolism</text>
<text x="51.00" y="526.60" font-size="11.3" font-family="Liberation Sans, sans-serif" stroke="#000" stroke-width="0.22" textLength="89.40" lengthAdjust="spacingAndGlyphs" transform="rotate(0.05 51.00 526.60)">PND21 vs PND46</text>
<text x="230.40" y="526.60" font-size="11.3" font-family="Liberation Sans, sans-serif" stroke="#000" stroke-width="0.22" textLength="89.40" lengthAdjust="spacingAndGlyphs" transform="rotate(0.05 230.40 526.60)">PND46 vs PND90</text>
<rect x="6" y="534.4" width="176.0" height="158.6" fill="#EEEEEE"/>
<rect x="22.2" y="534.8" width="157.4" height="67.6" fill="#fff" stroke="#C6C6C6" stroke-width="0.5"/>
<rect x="22.2" y="605.4" width="157.4" height="28.2" fill="#fff" stroke="#C6C6C6" stroke-width="0.5"/>
<rect x="22.2" y="634.2" width="157.4" height="47.2" fill="#fff" stroke="#C6C6C6" stroke-width="0.5"/>
<path d="M54.0 534.8V602.4M54.0 634.2V681.4" stroke="#EAEAEA" stroke-width="0.5" stroke-dasharray="1 0.8" fill="none"/>
<path d="M85.6 534.8V602.4M85.6 634.2V681.4" stroke="#EAEAEA" stroke-width="0.5" stroke-dasharray="1 0.8" fill="none"/>
<path d="M117.2 534.8V602.4M117.2 634.2V681.4" stroke="#EAEAEA" stroke-width="0.5" stroke-dasharray="1 0.8" fill="none"/>
<path d="M148.8 534.8V602.4M148.8 634.2V681.4" stroke="#EAEAEA" stroke-width="0.5" stroke-dasharray="1 0.8" fill="none"/>
<line x1="22.2" y1="601.1" x2="179.6" y2="601.1" stroke="#EAEAEA" stroke-width="0.5" stroke-dasharray="1 0.8"/>
<text x="20.10" y="602.65" font-size="4.4" font-family="Liberation Sans, sans-serif" text-anchor="end" fill="#5A5A5A" transform="rotate(0.05 20.10 602.65)">0.0</text>
<line x1="22.2" y1="592.0" x2="179.6" y2="592.0" stroke="#EAEAEA" stroke-width="0.5" stroke-dasharray="1 0.8"/>
<text x="20.10" y="593.58" font-size="4.4" font-family="Liberation Sans, sans-serif" text-anchor="end" fill="#5A5A5A" transform="rotate(0.05 20.10 593.58)">0.1</text>
<line x1="22.2" y1="583.0" x2="179.6" y2="583.0" stroke="#EAEAEA" stroke-width="0.5" stroke-dasharray="1 0.8"/>
<text x="20.10" y="584.51" font-size="4.4" font-family="Liberation Sans, sans-serif" text-anchor="end" fill="#5A5A5A" transform="rotate(0.05 20.10 584.51)">0.2</text>
<line x1="22.2" y1="573.9" x2="179.6" y2="573.9" stroke="#EAEAEA" stroke-width="0.5" stroke-dasharray="1 0.8"/>
<text x="20.10" y="575.44" font-size="4.4" font-family="Liberation Sans, sans-serif" text-anchor="end" fill="#5A5A5A" transform="rotate(0.05 20.10 575.44)">0.3</text>
<line x1="22.2" y1="564.8" x2="179.6" y2="564.8" stroke="#EAEAEA" stroke-width="0.5" stroke-dasharray="1 0.8"/>
<text x="20.10" y="566.37" font-size="4.4" font-family="Liberation Sans, sans-serif" text-anchor="end" fill="#5A5A5A" transform="rotate(0.05 20.10 566.37)">0.4</text>
<line x1="22.2" y1="555.8" x2="179.6" y2="555.8" stroke="#EAEAEA" stroke-width="0.5" stroke-dasharray="1 0.8"/>
<text x="20.10" y="557.30" font-size="4.4" font-family="Liberation Sans, sans-serif" text-anchor="end" fill="#5A5A5A" transform="rotate(0.05 20.10 557.30)">0.5</text>
<line x1="22.2" y1="546.7" x2="179.6" y2="546.7" stroke="#EAEAEA" stroke-width="0.5" stroke-dasharray="1 0.8"/>
<text x="20.10" y="548.23" font-size="4.4" font-family="Liberation Sans, sans-serif" text-anchor="end" fill="#5A5A5A" transform="rotate(0.05 20.10 548.23)">0.6</text>
<line x1="22.2" y1="537.6" x2="179.6" y2="537.6" stroke="#EAEAEA" stroke-width="0.5" stroke-dasharray="1 0.8"/>
<text x="20.10" y="539.16" font-size="4.4" font-family="Liberation Sans, sans-serif" text-anchor="end" fill="#5A5A5A" transform="rotate(0.05 20.10 539.16)">0.7</text>
<line x1="22.2" y1="601.1" x2="179.6" y2="601.1" stroke="#B8B8B8" stroke-width="0.5"/>
<text x="10.80" y="568.80" font-size="5.0" font-family="Liberation Sans, sans-serif" text-anchor="middle" font-weight="bold" fill="#222" textLength="55.60" lengthAdjust="spacingAndGlyphs" transform="rotate(-90 10.80 568.80)">Enrichment score (ES)</text>
<polyline points="22.5,601.1 23.2,584.9 24.5,567.4 25.7,562.4 27.5,553.7 30.0,545.5 32.5,541.2 35.5,538.0 38.7,539.0 42.5,539.7 46.2,540.0 50.0,541.0 53.7,541.7 58.7,542.5 64.9,545.5 72.4,549.5 82.4,555.5 94.9,563.7 107.4,571.2 119.8,577.4 129.8,582.4 137.3,586.9 144.8,589.9 151.0,592.4 154.8,593.2 159.8,596.2 164.8,599.1 167.8,600.9 169.8,600.1 172.3,601.1" fill="none" stroke="#0AFA0A" stroke-width="1.7" stroke-linejoin="round" stroke-linecap="round"/>
<rect x="22.8" y="605.7" width="3.7" height="22.1" fill="#000000"/>
<rect x="26.5" y="605.7" width="4.7" height="22.1" fill="#232323"/>
<rect x="27.6" y="605.7" width="0.6" height="22.1" fill="#4B4B4B"/>
<rect x="29.6" y="605.7" width="0.6" height="22.1" fill="#464646"/>
<rect x="31.2" y="605.7" width="1.6" height="22.1" fill="#6E6E6E"/>
<rect x="32.8" y="605.7" width="2.2" height="22.1" fill="#0A0A0A"/>
<rect x="35.0" y="605.7" width="1.8" height="22.1" fill="#AAAAAA"/>
<rect x="39.1" y="605.7" width="0.9" height="22.1" fill="#323232"/>
<rect x="42.1" y="605.7" width="0.8" height="22.1" fill="#323232"/>
<rect x="43.7" y="605.7" width="2.5" height="22.1" fill="#464646"/>
<rect x="47.5" y="605.7" width="1.3" height="22.1" fill="#323232"/>
<rect x="50.4" y="605.7" width="2.1" height="22.1" fill="#505050"/>
<rect x="53.2" y="605.7" width="5.6" height="22.1" fill="#464646"/>
<rect x="62.2" y="605.7" width="1.2" height="22.1" fill="#828282"/>
<rect x="64.2" y="605.7" width="1.3" height="22.1" fill="#828282"/>
<rect x="67.0" y="605.7" width="1.2" height="22.1" fill="#464646"/>
<rect x="68.8" y="605.7" width="1.9" height="22.1" fill="#828282"/>
<rect x="71.4" y="605.7" width="1.2" height="22.1" fill="#828282"/>
<rect x="73.2" y="605.7" width="1.9" height="22.1" fill="#828282"/>
<rect x="76.0" y="605.7" width="1.0" height="22.1" fill="#464646"/>
<rect x="78.3" y="605.7" width="1.2" height="22.1" fill="#787878"/>
<rect x="80.1" y="605.7" width="1.3" height="22.1" fill="#828282"/>
<rect x="82.0" y="605.7" width="0.9" height="22.1" fill="#464646"/>
<rect x="83.6" y="605.7" width="0.6" height="22.1" fill="#828282"/>
<rect x="110.7" y="605.7" width="1.2" height="22.1" fill="#8C8C8C"/>
<rect x="111.9" y="605.7" width="1.0" height="22.1" fill="#323232"/>
<rect x="115.0" y="605.7" width="0.6" height="22.1" fill="#828282"/>
<rect x="117.9" y="605.7" width="0.7" height="22.1" fill="#505050"/>
<rect x="123.2" y="605.7" width="0.6" height="22.1" fill="#323232"/>
<rect x="126.3" y="605.7" width="0.6" height="22.1" fill="#AAAAAA"/>
<rect x="129.2" y="605.7" width="0.6" height="22.1" fill="#828282"/>
<rect x="138.3" y="605.7" width="2.5" height="22.1" fill="#8C8C8C"/>
<rect x="144.3" y="605.7" width="0.6" height="22.1" fill="#8C8C8C"/>
<rect x="148.3" y="605.7" width="1.5" height="22.1" fill="#6E6E6E"/>
<rect x="152.1" y="605.7" width="2.5" height="22.1" fill="#787878"/>
<rect x="164.1" y="605.7" width="0.7" height="22.1" fill="#646464"/>
<rect x="168.4" y="605.7" width="2.2" height="22.1" fill="#AFAFAF"/>
<path d="M27.6 605.7V627.8M29.1 605.7V627.8M30.5 605.7V627.8M54.3 605.7V627.8M55.8 605.7V627.8M57.2 605.7V627.8" stroke="#9A9A9A" stroke-width="0.35" fill="none"/>
<rect x="22.4" y="627.8" width="1.6" height="5.8" fill="#7A0C0C"/>
<rect x="23.9" y="627.8" width="3.2" height="5.8" fill="#B82020"/>
<rect x="27.0" y="627.8" width="4.2" height="5.8" fill="#DC3030"/>
<rect x="31.2" y="627.8" width="9.9" height="5.8" fill="#EC4242"/>
<rect x="40.9" y="627.8" width="12.5" height="5.8" fill="#F45252"/>
<rect x="53.3" y="627.8" width="10.4" height="5.8" fill="#F46666"/>
<rect x="63.6" y="627.8" width="10.4" height="5.8" fill="#F88282"/>
<rect x="73.9" y="627.8" width="33.4" height="5.8" fill="#FDB9E2"/>
<rect x="107.2" y="627.8" width="30.6" height="5.8" fill="#CFCBFF"/>
<rect x="137.7" y="627.8" width="8.2" height="5.8" fill="#8482FA"/>
<rect x="145.8" y="627.8" width="16.4" height="5.8" fill="#6454EA"/>
<rect x="162.1" y="627.8" width="10.0" height="5.8" fill="#2A08C0"/>
<line x1="22.2" y1="638.6" x2="179.6" y2="638.6" stroke="#E2E2E2" stroke-width="0.5" stroke-dasharray="1 0.8"/>
<text x="20.30" y="640.05" font-size="4.1" font-family="Liberation Sans, sans-serif" text-anchor="end" fill="#5A5A5A" transform="rotate(0.05 20.30 640.05)">4</text>
<line x1="22.2" y1="649.6" x2="179.6" y2="649.6" stroke="#E2E2E2" stroke-width="0.5" stroke-dasharray="1 0.8"/>
<text x="20.30" y="651.05" font-size="4.1" font-family="Liberation Sans, sans-serif" text-anchor="end" fill="#5A5A5A" transform="rotate(0.05 20.30 651.05)">2</text>
<line x1="22.2" y1="660.6" x2="179.6" y2="660.6" stroke="#E2E2E2" stroke-width="0.5" stroke-dasharray="1 0.8"/>
<text x="20.30" y="662.05" font-size="4.1" font-family="Liberation Sans, sans-serif" text-anchor="end" fill="#5A5A5A" transform="rotate(0.05 20.30 662.05)">0</text>
<line x1="22.2" y1="671.6" x2="179.6" y2="671.6" stroke="#E2E2E2" stroke-width="0.5" stroke-dasharray="1 0.8"/>
<text x="20.30" y="673.05" font-size="4.1" font-family="Liberation Sans, sans-serif" text-anchor="end" fill="#5A5A5A" transform="rotate(0.05 20.30 673.05)">-2</text>
<polygon points="22.4,660.6 22.4,644.4 23.0,646.9 24.3,649.1 26.4,651.2 32.2,653.6 43.1,656.2 53.7,657.7 69.3,659.2 80.0,660.2 85.0,660.6 105.0,660.6 115.1,660.9 132.0,661.8 145.6,662.8 159.1,664.0 165.8,665.0 169.2,666.1 170.9,667.8 171.8,671.1 171.9,677.9 172.6,677.9 172.6,660.6" fill="#C2C2C2"/>
<line x1="85.0" y1="634.2" x2="85.0" y2="681.4" stroke="#CDCDCD" stroke-width="0.5" stroke-dasharray="1.2 1"/>
<text x="69.40" y="657.80" font-size="3.6" font-family="Liberation Sans, sans-serif" fill="#333" textLength="30.60" lengthAdjust="spacingAndGlyphs" transform="rotate(0.05 69.40 657.80)">Zero cross at 9931</text>
<text x="24.00" y="637.20" font-size="3.75" font-family="Liberation Sans, sans-serif" fill="#F82828" textLength="59.60" lengthAdjust="spacingAndGlyphs" transform="rotate(0.05 24.00 637.20)">'PND21_Con' (positively correlated)</text>
<text x="101.60" y="678.20" font-size="3.75" font-family="Liberation Sans, sans-serif" fill="#2828F8" textLength="61.80" lengthAdjust="spacingAndGlyphs" transform="rotate(0.05 101.60 678.20)">'PND46_Con' (negatively correlated)</text>
<text x="12.80" y="656.80" font-size="4.6" font-family="Liberation Sans, sans-serif" text-anchor="middle" fill="#2A2A2A" textLength="69.60" lengthAdjust="spacingAndGlyphs" transform="rotate(-90 12.80 656.80)" stroke="#2A2A2A" stroke-width="0.12">Ranked list metric (Signal2Noise)</text>
<text x="22.40" y="685.85" font-size="4.0" font-family="Liberation Sans, sans-serif" text-anchor="middle" fill="#555" transform="rotate(0.05 22.40 685.85)">0</text>
<text x="54.00" y="685.85" font-size="4.0" font-family="Liberation Sans, sans-serif" text-anchor="middle" fill="#555" transform="rotate(0.05 54.00 685.85)">5,000</text>
<text x="85.60" y="685.85" font-size="4.0" font-family="Liberation Sans, sans-serif" text-anchor="middle" fill="#555" transform="rotate(0.05 85.60 685.85)">10,000</text>
<text x="117.20" y="685.85" font-size="4.0" font-family="Liberation Sans, sans-serif" text-anchor="middle" fill="#555" transform="rotate(0.05 117.20 685.85)">15,000</text>
<text x="148.80" y="685.85" font-size="4.0" font-family="Liberation Sans, sans-serif" text-anchor="middle" fill="#555" transform="rotate(0.05 148.80 685.85)">20,000</text>
<text x="101.40" y="691.60" font-size="4.5" font-family="Liberation Sans, sans-serif" text-anchor="middle" font-weight="bold" fill="#2A2A2A" textLength="52.20" lengthAdjust="spacingAndGlyphs" transform="rotate(0.05 101.40 691.60)">Rank in Ordered Dataset</text>
<text x="138.60" y="546.60" font-size="8.7" font-family="Liberation Sans, sans-serif" stroke="#000" stroke-width="0.22" textLength="36.80" lengthAdjust="spacingAndGlyphs" transform="rotate(0.05 138.60 546.60)">NES:2.84</text>
<text x="138.60" y="556.90" font-size="8.7" font-family="Liberation Sans, sans-serif" stroke="#000" stroke-width="0.22" textLength="36.80" lengthAdjust="spacingAndGlyphs" transform="rotate(0.05 138.60 556.90)">P&lt;0.0001</text>
<rect x="186.4" y="534.6" width="176.4" height="159.4" fill="#EEEEEE"/>
<rect x="203.2" y="535" width="157.1" height="69.6" fill="#fff" stroke="#C6C6C6" stroke-width="0.5"/>
<rect x="203.2" y="606" width="157.1" height="28.4" fill="#fff" stroke="#C6C6C6" stroke-width="0.5"/>
<rect x="203.2" y="635.0" width="157.1" height="47.4" fill="#fff" stroke="#C6C6C6" stroke-width="0.5"/>
<path d="M234.8 535V604.6M234.8 635.0V682.4" stroke="#EAEAEA" stroke-width="0.5" stroke-dasharray="1 0.8" fill="none"/>
<path d="M266.2 535V604.6M266.2 635.0V682.4" stroke="#EAEAEA" stroke-width="0.5" stroke-dasharray="1 0.8" fill="none"/>
<path d="M297.6 535V604.6M297.6 635.0V682.4" stroke="#EAEAEA" stroke-width="0.5" stroke-dasharray="1 0.8" fill="none"/>
<path d="M329.0 535V604.6M329.0 635.0V682.4" stroke="#EAEAEA" stroke-width="0.5" stroke-dasharray="1 0.8" fill="none"/>
<line x1="203.2" y1="598.3" x2="360.3" y2="598.3" stroke="#EAEAEA" stroke-width="0.5" stroke-dasharray="1 0.8"/>
<text x="201.10" y="599.85" font-size="4.4" font-family="Liberation Sans, sans-serif" text-anchor="end" fill="#5A5A5A" transform="rotate(0.05 201.10 599.85)">0.0</text>
<line x1="203.2" y1="587.3" x2="360.3" y2="587.3" stroke="#EAEAEA" stroke-width="0.5" stroke-dasharray="1 0.8"/>
<text x="201.10" y="588.85" font-size="4.4" font-family="Liberation Sans, sans-serif" text-anchor="end" fill="#5A5A5A" transform="rotate(0.05 201.10 588.85)">0.1</text>
<line x1="203.2" y1="576.3" x2="360.3" y2="576.3" stroke="#EAEAEA" stroke-width="0.5" stroke-dasharray="1 0.8"/>
<text x="201.10" y="577.85" font-size="4.4" font-family="Liberation Sans, sans-serif" text-anchor="end" fill="#5A5A5A" transform="rotate(0.05 201.10 577.85)">0.2</text>
<line x1="203.2" y1="565.3" x2="360.3" y2="565.3" stroke="#EAEAEA" stroke-width="0.5" stroke-dasharray="1 0.8"/>
<text x="201.10" y="566.85" font-size="4.4" font-family="Liberation Sans, sans-serif" text-anchor="end" fill="#5A5A5A" transform="rotate(0.05 201.10 566.85)">0.3</text>
<line x1="203.2" y1="554.3" x2="360.3" y2="554.3" stroke="#EAEAEA" stroke-width="0.5" stroke-dasharray="1 0.8"/>
<text x="201.10" y="555.85" font-size="4.4" font-family="Liberation Sans, sans-serif" text-anchor="end" fill="#5A5A5A" transform="rotate(0.05 201.10 555.85)">0.4</text>
<line x1="203.2" y1="543.3" x2="360.3" y2="543.3" stroke="#EAEAEA" stroke-width="0.5" stroke-dasharray="1 0.8"/>
<text x="201.10" y="544.85" font-size="4.4" font-family="Liberation Sans, sans-serif" text-anchor="end" fill="#5A5A5A" transform="rotate(0.05 201.10 544.85)">0.5</text>
<line x1="203.2" y1="598.3" x2="360.3" y2="598.3" stroke="#B8B8B8" stroke-width="0.5"/>
<text x="191.20" y="569.00" font-size="5.0" font-family="Liberation Sans, sans-serif" text-anchor="middle" font-weight="bold" fill="#222" textLength="55.60" lengthAdjust="spacingAndGlyphs" transform="rotate(-90 191.20 569.00)">Enrichment score (ES)</text>
<polyline points="203.4,598.6 204.5,595.4 206.2,589.9 208.0,582.4 210.0,582.9 212.0,574.9 213.7,569.9 215.5,561.2 217.5,552.5 220.0,547.0 222.5,543.0 225.5,540.0 228.7,540.5 231.2,539.5 233.7,540.2 236.2,538.7 239.9,538.5 243.7,538.7 247.4,539.5 252.4,542.0 257.4,544.5 264.9,550.0 274.9,557.5 284.9,564.9 294.9,572.4 304.8,578.7 312.3,582.9 319.8,586.2 323.6,587.4 327.3,589.9 334.8,594.4 339.8,597.9 342.3,596.9 344.8,599.4 347.8,601.6 349.3,597.4 351.0,596.6 352.8,597.9" fill="none" stroke="#0AFA0A" stroke-width="1.7" stroke-linejoin="round" stroke-linecap="round"/>
<rect x="203.6" y="606.3" width="5.1" height="22.2" fill="#373737"/>
<rect x="205.4" y="606.3" width="0.8" height="22.2" fill="#5F5F5F"/>
<rect x="209.9" y="606.3" width="5.1" height="22.2" fill="#050505"/>
<rect x="211.9" y="606.3" width="0.8" height="22.2" fill="#2D2D2D"/>
<rect x="215.6" y="606.3" width="9.4" height="22.2" fill="#121212"/>
<rect x="216.9" y="606.3" width="0.6" height="22.2" fill="#505050"/>
<rect x="219.4" y="606.3" width="0.6" height="22.2" fill="#464646"/>
<rect x="221.9" y="606.3" width="0.6" height="22.2" fill="#464646"/>
<rect x="227.5" y="606.3" width="1.3" height="22.2" fill="#323232"/>
<rect x="230.4" y="606.3" width="2.1" height="22.2" fill="#323232"/>
<rect x="234.4" y="606.3" width="6.9" height="22.2" fill="#3C3C3C"/>
<rect x="241.3" y="606.3" width="1.9" height="22.2" fill="#828282"/>
<rect x="243.4" y="606.3" width="2.1" height="22.2" fill="#0A0A0A"/>
<rect x="246.3" y="606.3" width="1.9" height="22.2" fill="#464646"/>
<rect x="250.0" y="606.3" width="7.0" height="22.2" fill="#787878"/>
<rect x="260.4" y="606.3" width="1.3" height="22.2" fill="#323232"/>
<rect x="264.2" y="606.3" width="1.6" height="22.2" fill="#828282"/>
<rect x="266.7" y="606.3" width="1.6" height="22.2" fill="#3C3C3C"/>
<rect x="282.0" y="606.3" width="0.6" height="22.2" fill="#8C8C8C"/>
<rect x="291.3" y="606.3" width="0.6" height="22.2" fill="#828282"/>
<rect x="293.6" y="606.3" width="2.7" height="22.2" fill="#B4B4B4"/>
<rect x="298.6" y="606.3" width="0.9" height="22.2" fill="#3C3C3C"/>
<rect x="301.3" y="606.3" width="0.6" height="22.2" fill="#5A5A5A"/>
<rect x="307.3" y="606.3" width="0.6" height="22.2" fill="#AAAAAA"/>
<rect x="311.4" y="606.3" width="2.2" height="22.2" fill="#8C8C8C"/>
<rect x="315.5" y="606.3" width="0.6" height="22.2" fill="#828282"/>
<rect x="317.7" y="606.3" width="1.0" height="22.2" fill="#828282"/>
<rect x="322.6" y="606.3" width="0.7" height="22.2" fill="#5A5A5A"/>
<rect x="332.4" y="606.3" width="0.6" height="22.2" fill="#828282"/>
<rect x="340.8" y="606.3" width="0.7" height="22.2" fill="#505050"/>
<rect x="348.1" y="606.3" width="0.7" height="22.2" fill="#141414"/>
<rect x="350.6" y="606.3" width="0.6" height="22.2" fill="#B4B4B4"/>
<path d="M204.7 606.3V628.5M206.1 606.3V628.5M207.6 606.3V628.5M216.7 606.3V628.5M218.1 606.3V628.5M219.6 606.3V628.5M221.0 606.3V628.5M222.5 606.3V628.5M223.9 606.3V628.5M235.5 606.3V628.5M236.9 606.3V628.5M238.4 606.3V628.5M239.8 606.3V628.5M251.1 606.3V628.5M252.5 606.3V628.5M254.0 606.3V628.5M255.4 606.3V628.5" stroke="#9A9A9A" stroke-width="0.35" fill="none"/>
<rect x="203.4" y="628.5" width="2.8" height="5.9" fill="#C02424"/>
<rect x="206.1" y="628.5" width="8.1" height="5.9" fill="#DC3434"/>
<rect x="214.1" y="628.5" width="10.8" height="5.9" fill="#EC4444"/>
<rect x="224.8" y="628.5" width="10.8" height="5.9" fill="#F45454"/>
<rect x="235.6" y="628.5" width="10.8" height="5.9" fill="#F46868"/>
<rect x="246.3" y="628.5" width="10.8" height="5.9" fill="#F88484"/>
<rect x="257.0" y="628.5" width="34.7" height="5.9" fill="#FDB9E2"/>
<rect x="291.6" y="628.5" width="29.7" height="5.9" fill="#CFCBFF"/>
<rect x="321.2" y="628.5" width="6.0" height="5.9" fill="#8482FA"/>
<rect x="327.1" y="628.5" width="20.2" height="5.9" fill="#6454EA"/>
<rect x="347.2" y="628.5" width="5.5" height="5.9" fill="#2A08C0"/>
<line x1="203.2" y1="635.7" x2="360.3" y2="635.7" stroke="#E2E2E2" stroke-width="0.5" stroke-dasharray="1 0.8"/>
<text x="201.30" y="637.15" font-size="4.1" font-family="Liberation Sans, sans-serif" text-anchor="end" fill="#5A5A5A" transform="rotate(0.05 201.30 637.15)">3</text>
<line x1="203.2" y1="643.6" x2="360.3" y2="643.6" stroke="#E2E2E2" stroke-width="0.5" stroke-dasharray="1 0.8"/>
<text x="201.30" y="645.05" font-size="4.1" font-family="Liberation Sans, sans-serif" text-anchor="end" fill="#5A5A5A" transform="rotate(0.05 201.30 645.05)">2</text>
<line x1="203.2" y1="651.5" x2="360.3" y2="651.5" stroke="#E2E2E2" stroke-width="0.5" stroke-dasharray="1 0.8"/>
<text x="201.30" y="652.95" font-size="4.1" font-family="Liberation Sans, sans-serif" text-anchor="end" fill="#5A5A5A" transform="rotate(0.05 201.30 652.95)">1</text>
<line x1="203.2" y1="659.4" x2="360.3" y2="659.4" stroke="#E2E2E2" stroke-width="0.5" stroke-dasharray="1 0.8"/>
<text x="201.30" y="660.85" font-size="4.1" font-family="Liberation Sans, sans-serif" text-anchor="end" fill="#5A5A5A" transform="rotate(0.05 201.30 660.85)">0</text>
<line x1="203.2" y1="667.3" x2="360.3" y2="667.3" stroke="#E2E2E2" stroke-width="0.5" stroke-dasharray="1 0.8"/>
<text x="201.30" y="668.75" font-size="4.1" font-family="Liberation Sans, sans-serif" text-anchor="end" fill="#5A5A5A" transform="rotate(0.05 201.30 668.75)">-1</text>
<line x1="203.2" y1="675.2" x2="360.3" y2="675.2" stroke="#E2E2E2" stroke-width="0.5" stroke-dasharray="1 0.8"/>
<text x="201.30" y="676.65" font-size="4.1" font-family="Liberation Sans, sans-serif" text-anchor="end" fill="#5A5A5A" transform="rotate(0.05 201.30 676.65)">-2</text>
<polygon points="203.4,659.4 203.4,646.0 204.0,649.1 205.2,652.3 206.4,653.7 209.5,654.7 214.3,655.4 221.6,656.2 231.9,657.2 248.8,658.5 259.2,659.2 264.0,659.4 290.0,659.4 299.4,659.8 315.2,661.1 327.8,662.6 340.4,664.1 346.7,665.6 349.9,666.9 351.4,668.9 352.2,672.8 352.3,678.8 353.0,678.8 353.0,659.4" fill="#C2C2C2"/>
<line x1="269.2" y1="635.0" x2="269.2" y2="682.4" stroke="#CDCDCD" stroke-width="0.5" stroke-dasharray="1.2 1"/>
<text x="252.40" y="659.20" font-size="3.6" font-family="Liberation Sans, sans-serif" fill="#333" textLength="33.20" lengthAdjust="spacingAndGlyphs" transform="rotate(0.05 252.40 659.20)">Zero cross at 10478</text>
<text x="204.00" y="638.20" font-size="3.75" font-family="Liberation Sans, sans-serif" fill="#F82828" textLength="60.40" lengthAdjust="spacingAndGlyphs" transform="rotate(0.05 204.00 638.20)">'PND46_Con' (positively correlated)</text>
<text x="282.00" y="679.20" font-size="3.75" font-family="Liberation Sans, sans-serif" fill="#2828F8" textLength="61.80" lengthAdjust="spacingAndGlyphs" transform="rotate(0.05 282.00 679.20)">'PND90_Con' (negatively correlated)</text>
<text x="193.20" y="657.40" font-size="4.6" font-family="Liberation Sans, sans-serif" text-anchor="middle" fill="#2A2A2A" textLength="69.60" lengthAdjust="spacingAndGlyphs" transform="rotate(-90 193.20 657.40)" stroke="#2A2A2A" stroke-width="0.12">Ranked list metric (Signal2Noise)</text>
<text x="203.40" y="686.85" font-size="4.0" font-family="Liberation Sans, sans-serif" text-anchor="middle" fill="#555" transform="rotate(0.05 203.40 686.85)">0</text>
<text x="234.80" y="686.85" font-size="4.0" font-family="Liberation Sans, sans-serif" text-anchor="middle" fill="#555" transform="rotate(0.05 234.80 686.85)">5,000</text>
<text x="266.20" y="686.85" font-size="4.0" font-family="Liberation Sans, sans-serif" text-anchor="middle" fill="#555" transform="rotate(0.05 266.20 686.85)">10,000</text>
<text x="297.60" y="686.85" font-size="4.0" font-family="Liberation Sans, sans-serif" text-anchor="middle" fill="#555" transform="rotate(0.05 297.60 686.85)">15,000</text>
<text x="329.00" y="686.85" font-size="4.0" font-family="Liberation Sans, sans-serif" text-anchor="middle" fill="#555" transform="rotate(0.05 329.00 686.85)">20,000</text>
<text x="282.25" y="692.60" font-size="4.5" font-family="Liberation Sans, sans-serif" text-anchor="middle" font-weight="bold" fill="#2A2A2A" textLength="52.20" lengthAdjust="spacingAndGlyphs" transform="rotate(0.05 282.25 692.60)">Rank in Ordered Dataset</text>
<text x="318.80" y="547.00" font-size="8.7" font-family="Liberation Sans, sans-serif" stroke="#000" stroke-width="0.22" textLength="37.20" lengthAdjust="spacingAndGlyphs" transform="rotate(0.05 318.80 547.00)">NES:2.10</text>
<text x="318.80" y="557.30" font-size="8.7" font-family="Liberation Sans, sans-serif" stroke="#000" stroke-width="0.22" textLength="37.20" lengthAdjust="spacingAndGlyphs" transform="rotate(0.05 318.80 557.30)">P&lt;0.0001</text>
<!-- Panel E -->
<text x="382.20" y="298.00" font-size="16.4" font-family="Liberation Sans, sans-serif" stroke="#000" stroke-width="0.22" transform="rotate(0.05 382.20 298.00)">E</text>
<text x="463.00" y="337.50" font-size="18" font-family="Liberation Sans, sans-serif" font-weight="bold" textLength="135.20" lengthAdjust="spacingAndGlyphs" transform="rotate(0.05 463.00 337.50)">Total fatty acids</text>
<rect x="461.50" y="458.99" width="34.4" height="165.51" fill="#0000FF"/>
<path d="M478.70 458.99V424.24M470.20 424.24H487.20" stroke="#0000FF" stroke-width="0.9" fill="none"/>
<rect x="513.20" y="529.26" width="34.4" height="95.24" fill="#FF0000"/>
<path d="M530.40 529.26V496.00M521.90 496.00H538.90" stroke="#FF0000" stroke-width="0.9" fill="none"/>
<rect x="564.90" y="521.79" width="34.4" height="102.71" fill="#00BB00"/>
<path d="M582.10 521.79V482.29M573.60 482.29H590.60" stroke="#00BB00" stroke-width="0.9" fill="none"/>
<path d="M444.25 365.8V624.5H617.2" stroke="#000" stroke-width="1.5" fill="none"/>
<line x1="439.8" y1="624.50" x2="444.25" y2="624.50" stroke="#000" stroke-width="1.6"/>
<text x="438.80" y="631.30" font-size="20" font-family="Liberation Sans, sans-serif" text-anchor="end" font-weight="bold" transform="rotate(0.05 438.80 631.30)">0</text>
<line x1="439.8" y1="570.20" x2="444.25" y2="570.20" stroke="#000" stroke-width="1.6"/>
<text x="438.80" y="577.00" font-size="20" font-family="Liberation Sans, sans-serif" text-anchor="end" font-weight="bold" transform="rotate(0.05 438.80 577.00)">200</text>
<line x1="439.8" y1="515.90" x2="444.25" y2="515.90" stroke="#000" stroke-width="1.6"/>
<text x="438.80" y="522.70" font-size="20" font-family="Liberation Sans, sans-serif" text-anchor="end" font-weight="bold" transform="rotate(0.05 438.80 522.70)">400</text>
<line x1="439.8" y1="461.60" x2="444.25" y2="461.60" stroke="#000" stroke-width="1.6"/>
<text x="438.80" y="468.40" font-size="20" font-family="Liberation Sans, sans-serif" text-anchor="end" font-weight="bold" transform="rotate(0.05 438.80 468.40)">600</text>
<line x1="439.8" y1="407.30" x2="444.25" y2="407.30" stroke="#000" stroke-width="1.6"/>
<text x="438.80" y="414.10" font-size="20" font-family="Liberation Sans, sans-serif" text-anchor="end" font-weight="bold" transform="rotate(0.05 438.80 414.10)">800</text>
<line x1="478.4" y1="624.5" x2="478.4" y2="627.9" stroke="#000" stroke-width="1.5"/>
<line x1="530.3" y1="624.5" x2="530.3" y2="627.9" stroke="#000" stroke-width="1.5"/>
<line x1="582.2" y1="624.5" x2="582.2" y2="627.9" stroke="#000" stroke-width="1.5"/>
<path d="M478.3 419.6V388.3H582.3V474" stroke="#222" stroke-width="0.95" fill="none"/>
<path d="M478.3 414.7H530.4V491.2" stroke="#222" stroke-width="0.95" fill="none"/>
<text x="482.80" y="414.45" font-size="23.3" font-family="DejaVu Sans, Liberation Sans, sans-serif" font-weight="bold" transform="rotate(0.05 482.80 414.45)" letter-spacing="2.26">***</text>
<text x="510.40" y="388.50" font-size="23.3" font-family="DejaVu Sans, Liberation Sans, sans-serif" font-weight="bold" transform="rotate(0.05 510.40 388.50)" letter-spacing="1.46">***</text>
<text x="397.00" y="509.90" font-size="17" font-family="Liberation Sans, sans-serif" text-anchor="middle" font-weight="bold" textLength="200.60" lengthAdjust="spacingAndGlyphs" transform="rotate(-90 397.00 509.90)">Concentration (mg FA/g)</text>
<text x="484.90" y="642.30" font-size="20" font-family="Liberation Sans, sans-serif" text-anchor="end" font-weight="bold" transform="rotate(-45 484.90 642.30)">PND21</text>
<text x="536.90" y="642.30" font-size="20" font-family="Liberation Sans, sans-serif" text-anchor="end" font-weight="bold" transform="rotate(-45 536.90 642.30)">PND46</text>
<text x="588.60" y="642.30" font-size="20" font-family="Liberation Sans, sans-serif" text-anchor="end" font-weight="bold" transform="rotate(-45 588.60 642.30)">PND90</text>
</svg></body></html>
